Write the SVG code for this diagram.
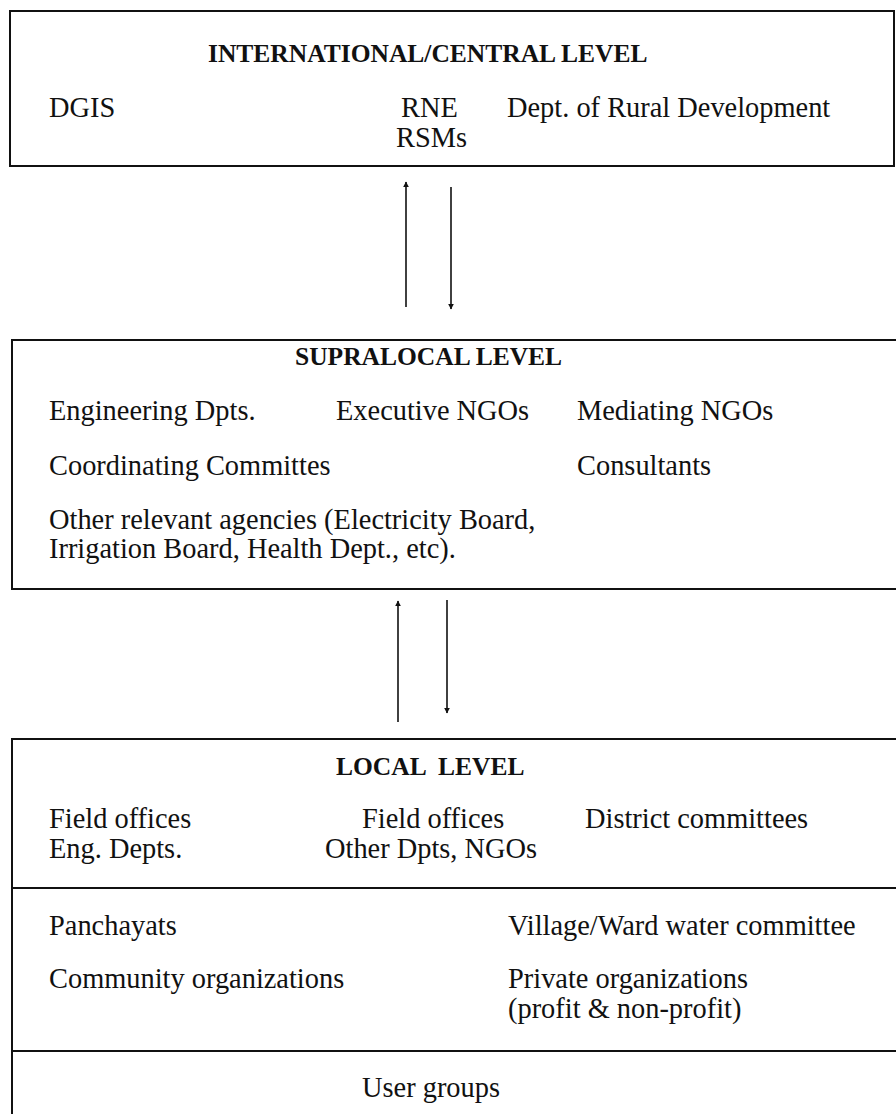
<svg xmlns="http://www.w3.org/2000/svg" width="896" height="1114" viewBox="0 0 896 1114">
<style>
.box{fill:none;stroke:#111;stroke-width:2}
.sep{stroke:#111;stroke-width:2}
.t{font-family:"Liberation Serif","Times New Roman",serif;font-size:28.4px;fill:#111}
.h{font-family:"Liberation Serif","Times New Roman",serif;font-size:25.5px;font-weight:bold;fill:#111;white-space:pre}
.arr{stroke:#111;stroke-width:1.6;fill:none}
</style>
<defs>
<marker id="ah" viewBox="0 0 10 10" refX="9" refY="5" markerWidth="6" markerHeight="6" markerUnits="userSpaceOnUse" orient="auto">
<path d="M0,0 L10,5 L0,10 Z" fill="#111"/>
</marker>
</defs>
<rect width="896" height="1114" fill="#fff"/>
<g id="node-international">
<rect class="box" x="10" y="11" width="884" height="155"/>
<text class="h" x="208" y="62">INTERNATIONAL/CENTRAL LEVEL</text>
<text class="t" x="49" y="117">DGIS</text>
<text class="t" x="401" y="117">RNE</text>
<text class="t" x="396" y="147">RSMs</text>
<text class="t" x="507" y="117">Dept. of Rural Development</text>
</g>
<g id="node-supralocal">
<rect class="box" x="12" y="340" width="890" height="249"/>
<text class="h" x="295" y="365">SUPRALOCAL LEVEL</text>
<text class="t" x="49" y="420">Engineering Dpts.</text>
<text class="t" x="336" y="420">Executive NGOs</text>
<text class="t" x="577" y="420">Mediating NGOs</text>
<text class="t" x="49" y="475">Coordinating Committes</text>
<text class="t" x="577" y="475">Consultants</text>
<text class="t" x="49" y="529">Other relevant agencies (Electricity Board,</text>
<text class="t" x="49" y="558">Irrigation Board, Health Dept., etc).</text>
</g>
<g id="node-local">
<rect class="box" x="12" y="739" width="890" height="390"/>
<line class="sep" x1="12" y1="888" x2="896" y2="888"/>
<line class="sep" x1="12" y1="1051" x2="896" y2="1051"/>
<text class="h" x="336" y="775">LOCAL  LEVEL</text>
<text class="t" x="49" y="828">Field offices</text>
<text class="t" x="49" y="858">Eng. Depts.</text>
<text class="t" x="362" y="828">Field offices</text>
<text class="t" x="325" y="858">Other Dpts, NGOs</text>
<text class="t" x="585" y="828">District committees</text>
<text class="t" x="49" y="935">Panchayats</text>
<text class="t" x="508" y="935">Village/Ward water committee</text>
<text class="t" x="49" y="988">Community organizations</text>
<text class="t" x="508" y="988">Private organizations</text>
<text class="t" x="508" y="1018">(profit &amp; non-profit)</text>
<text class="t" x="362" y="1097">User groups</text>
</g>
<g id="connectors">
<line class="arr" x1="406" y1="307" x2="406" y2="182" marker-end="url(#ah)"/>
<line class="arr" x1="451" y1="187" x2="451" y2="309" marker-end="url(#ah)"/>
<line class="arr" x1="398" y1="722" x2="398" y2="601" marker-end="url(#ah)"/>
<line class="arr" x1="447" y1="600" x2="447" y2="713" marker-end="url(#ah)"/>
</g>
</svg>
